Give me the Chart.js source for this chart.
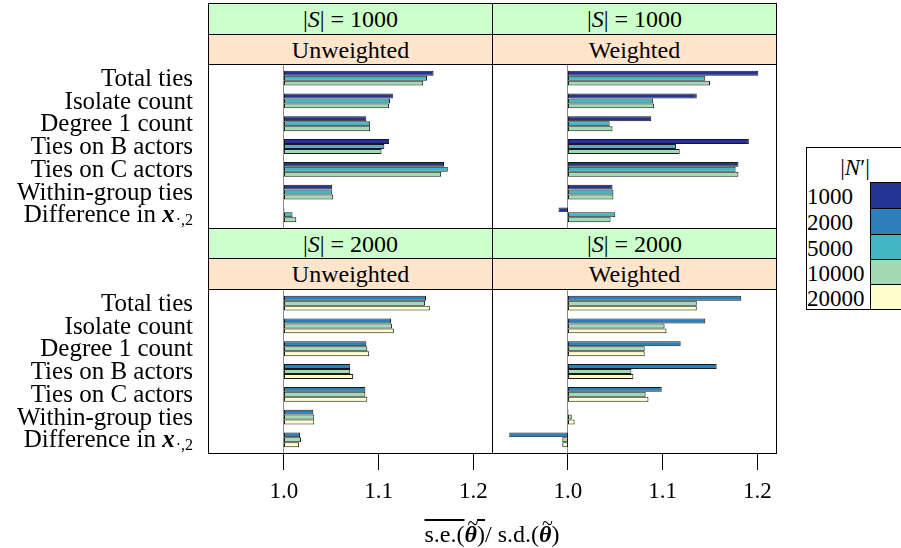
<!DOCTYPE html>
<html><head><meta charset="utf-8">
<script src="https://cdn.jsdelivr.net/npm/chart.js@4.4.1/dist/chart.umd.min.js"></script>
<style>
body{margin:0;width:901px;height:548px;overflow:hidden;background:#fff;font-family:"Liberation Serif",serif;position:relative;}
.abs{position:absolute;box-sizing:border-box;}
.strip{border:1px solid #000;display:flex;align-items:center;justify-content:center;font-size:24px;color:#000;line-height:1;}
.g{background:#ccffcc}.o{background:#ffe5cc}
.leg{border:1px solid #000;background:#fff;}
.lrow{position:absolute;left:0;font-size:23px;line-height:1;}
.lbox{position:absolute;box-sizing:border-box;border:1px solid #000;}
.th{display:inline-block;position:relative;font-weight:bold;font-style:italic;}
.th::after{content:'~';position:absolute;left:3px;top:-9px;font-weight:normal;font-style:normal;font-size:20px;}
</style></head><body>

<div class="abs strip g" style="left:208px;top:3px;width:285px;height:32px;">|<i>S</i>| = 1000</div>
<div class="abs strip o" style="left:208px;top:34px;width:285px;height:31px;">Unweighted</div>
<div class="abs strip g" style="left:492px;top:3px;width:285px;height:32px;">|<i>S</i>| = 1000</div>
<div class="abs strip o" style="left:492px;top:34px;width:285px;height:31px;">Weighted</div>

<div class="abs strip g" style="left:208px;top:228px;width:285px;height:31px;">|<i>S</i>| = 2000</div>
<div class="abs strip o" style="left:208px;top:258px;width:285px;height:32px;">Unweighted</div>
<div class="abs strip g" style="left:492px;top:228px;width:285px;height:31px;">|<i>S</i>| = 2000</div>
<div class="abs strip o" style="left:492px;top:258px;width:285px;height:32px;">Weighted</div>

<div class="abs" style="left:0;top:64px;width:494px;height:166px;"><canvas id="tl"></canvas></div>
<div class="abs" style="left:492px;top:64px;width:286px;height:166px;"><canvas id="tr"></canvas></div>
<div class="abs" style="left:0;top:289px;width:494px;height:259px;"><canvas id="bl"></canvas></div>
<div class="abs" style="left:492px;top:289px;width:286px;height:259px;"><canvas id="br"></canvas></div>

<div class="abs" style="left:392px;top:522px;width:200px;text-align:center;font-size:24px;line-height:1;white-space:nowrap;">
<span style="text-decoration:overline;">s.e.(<span class="th">θ</span>)</span>/ s.d.(<span class="th">θ</span>)
</div>

<div class="abs leg" id="legend" style="left:806px;top:147px;width:98px;height:163px;"></div>

<script>
// ---------- data ----------
const categories = ['Total ties','Isolate count','Degree 1 count','Ties on B actors','Ties on C actors','Within-group ties','Difference in {x}_{·,2}'];
const legendLabels = ['1000','2000','5000','10000','20000'];
const seriesColors = ['#253494','#2c7fb8','#41b6c4','#a1dab4','#ffffcc'];
const xTicks = [1.0, 1.1, 1.2];
const baseValue = 1.0;

// |S| = 1000, Unweighted  (N' = 1000, 5000, 10000)
const s1000U_n1000  = [1.158, 1.115, 1.087, 1.111, 1.169, 1.051, 1.0005];
const s1000U_n5000  = [1.151, 1.112, 1.091, 1.106, 1.173, 1.051, 1.009];
const s1000U_n10000 = [1.147, 1.111, 1.091, 1.103, 1.166, 1.052, 1.013];
// |S| = 1000, Weighted
const s1000W_n1000  = [1.201, 1.136, 1.088, 1.191, 1.180, 1.047, 0.990];
const s1000W_n5000  = [1.145, 1.090, 1.044, 1.114, 1.177, 1.048, 1.050];
const s1000W_n10000 = [1.150, 1.091, 1.047, 1.118, 1.180, 1.048, 1.045];
// |S| = 2000, Unweighted  (N' = 2000, 10000, 20000)
const s2000U_n2000  = [1.150, 1.113, 1.087, 1.070, 1.086, 1.031, 1.017];
const s2000U_n10000 = [1.149, 1.114, 1.088, 1.070, 1.086, 1.032, 1.018];
const s2000U_n20000 = [1.154, 1.116, 1.090, 1.073, 1.088, 1.032, 1.016];
// |S| = 2000, Weighted
const s2000W_n2000  = [1.183, 1.145, 1.119, 1.157, 1.099, 1.0005, 0.938];
const s2000W_n10000 = [1.136, 1.102, 1.081, 1.067, 1.082, 1.004, 0.994];
const s2000W_n20000 = [1.136, 1.104, 1.081, 1.069, 1.085, 1.007, 0.994];

// ---------- layout constants ----------
const XMIN = 0.9203, XMAX = 1.2202;
const PANEL_H = 164;
const PAD = 0.1 * PANEL_H / 7.2;
const FONT = '"Liberation Serif", serif';
const FS = 25;
const TICK_LEN = 17;

function ds(nIdx, values){
  return {label: legendLabels[nIdx], data: values, base: baseValue,
    backgroundColor: seriesColors[nIdx], borderColor: '#1a1a1a', borderWidth: 1,
    borderSkipped: false, categoryPercentage: 0.65, barPercentage: 1.0};
}

const panelPlugin = {
  id: 'panelDeco',
  beforeDatasetsDraw(chart){
    const ca = chart.chartArea, ctx = chart.ctx, x = chart.scales.x;
    const p = Math.floor(x.getPixelForValue(baseValue)) + 0.5;
    ctx.save();
    ctx.strokeStyle = '#8c8c8c'; ctx.lineWidth = 1;
    ctx.beginPath(); ctx.moveTo(p, ca.top - PAD); ctx.lineTo(p, ca.bottom + PAD); ctx.stroke();
    ctx.restore();
  },
  afterDraw(chart){
    const ca = chart.chartArea, ctx = chart.ctx;
    const x = chart.scales.x, y = chart.scales.y;
    ctx.save();
    if (x.options.display) {
      const yb = Math.floor(ca.bottom + PAD);
      ctx.fillStyle = '#000';
      xTicks.forEach(v => {
        const px = Math.floor(x.getPixelForValue(v));
        ctx.fillRect(px, yb, 1, TICK_LEN);
      });
    }
    ctx.strokeStyle = '#000'; ctx.lineWidth = 1;
    ctx.strokeRect(ca.left, ca.top - PAD, ca.right - ca.left, ca.bottom - ca.top + 2*PAD);
    if (y.options.display) {
      const xr = ca.left - 15.5;
      ctx.fillStyle = '#000';
      ctx.textBaseline = 'middle';
      chart.data.labels.forEach((lab, i) => {
        const py = y.getPixelForValue(i) + 1;
        const m = lab.match(/^(.*)\{(.+)\}_\{(.+)\}$/);
        if (!m) {
          ctx.font = FS + 'px ' + FONT; ctx.textAlign = 'right';
          ctx.fillText(lab, xr, py);
        } else {
          ctx.textAlign = 'left';
          const fN = FS + 'px ' + FONT, fB = 'bold italic ' + FS + 'px ' + FONT, fS = '16px ' + FONT;
          ctx.font = fS; const wS = ctx.measureText(m[3]).width;
          ctx.font = fB; const wB = ctx.measureText(m[2]).width;
          ctx.font = fN; const wN = ctx.measureText(m[1]).width;
          let x0 = xr - wS - wB - 1 - wN;
          ctx.font = fN; ctx.fillText(m[1], x0, py); x0 += wN;
          ctx.font = fB; ctx.fillText(m[2], x0, py); x0 += wB + 1;
          ctx.font = fS; ctx.fillText(m[3], x0, py + 5);
        }
      });
    }
    ctx.restore();
  }
};

function makePanel(id, datasets, opts){
  const showX = opts.showX, showY = opts.showY;
  const contH = showX ? 259 : 166;
  const padTop = 0.5 + PAD;
  const padBottom = showX ? 0 : (contH - (PANEL_H + 0.5)) + PAD;
  const areaBottom = PANEL_H + 0.5 - PAD;
  const contW = showY ? 494 : 286;
  new Chart(document.getElementById(id), {
    type: 'bar',
    data: {labels: categories, datasets: datasets},
    plugins: [panelPlugin],
    options: {
      indexAxis: 'y', responsive: true, maintainAspectRatio: false,
      animation: false, events: [],
      layout: {autoPadding: false, padding: {left: showY ? 0 : 0.5, right: contW - (showY ? 492.5 : 284.5), top: padTop, bottom: padBottom}},
      plugins: {legend: {display: false}, tooltip: {enabled: false}},
      scales: {
        x: {
          type: 'linear', min: XMIN, max: XMAX, display: showX, position: 'bottom',
          afterBuildTicks: s => { s.ticks = xTicks.map(v => ({value: v})); },
          afterFit: s => {
            s.height = showX ? contH - areaBottom : 0;
            s.paddingLeft = 0; s.paddingRight = 0; s.paddingTop = 0; s.paddingBottom = 0;
          },
          grid: {display: false},
          border: {display: false},
          ticks: {padding: 19, color: '#000', font: {family: FONT, size: 23}, callback: v => Number(v).toFixed(1), maxRotation: 0, autoSkip: false}
        },
        y: {
          type: 'category', offset: true, display: showY,
          afterFit: s => { s.width = showY ? 208.5 : 0; s.paddingTop = 0; s.paddingBottom = 0; },
          grid: {display: false}, border: {display: false},
          ticks: {display: false}
        }
      }
    }
  });
}

makePanel('tl', [ds(0, s1000U_n1000), ds(2, s1000U_n5000), ds(3, s1000U_n10000)], {showX: false, showY: true});
makePanel('tr', [ds(0, s1000W_n1000), ds(2, s1000W_n5000), ds(3, s1000W_n10000)], {showX: false, showY: false});
makePanel('bl', [ds(1, s2000U_n2000), ds(3, s2000U_n10000), ds(4, s2000U_n20000)], {showX: true, showY: true});
makePanel('br', [ds(1, s2000W_n2000), ds(3, s2000W_n10000), ds(4, s2000W_n20000)], {showX: true, showY: false});

// ---------- legend ----------
(function(){
  const leg = document.getElementById('legend');
  const t = document.createElement('div');
  t.className = 'lrow';
  t.style.cssText = 'left:0;width:96px;top:8px;text-align:center;';
  t.innerHTML = '|<i>N</i>′|';
  leg.appendChild(t);
  const tops = [34, 60, 86, 111, 136];
  const hs = [27, 27, 26, 26, 26];
  legendLabels.forEach((lab, i) => {
    const r = document.createElement('div');
    r.className = 'lrow';
    r.style.cssText = 'left:0px;top:' + (tops[i] + 3) + 'px;';
    r.textContent = lab;
    leg.appendChild(r);
    const b = document.createElement('div');
    b.className = 'lbox';
    b.style.cssText = 'left:63px;top:' + tops[i] + 'px;width:40px;height:' + hs[i] + 'px;background:' + seriesColors[i] + ';';
    leg.appendChild(b);
  });
})();
</script>
</body></html>
